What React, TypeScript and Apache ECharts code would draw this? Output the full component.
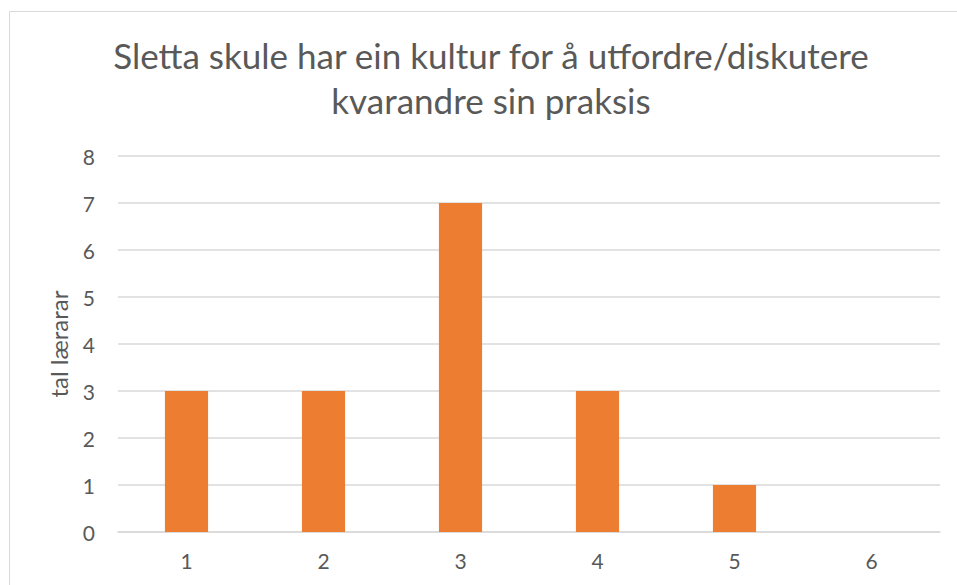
import React, { useEffect, useRef } from "react";
import * as echarts from "echarts";

const categories = ["1", "2", "3", "4", "5", "6"];
const values = [3, 3, 7, 3, 1, 0];
const titleLines = ["Sletta skule har ein kultur for å utfordre/diskutere", "kvarandre sin praksis"];
const yAxisName = "tal lærarar";

export default function App() {
  const ref = useRef<HTMLDivElement>(null);
  useEffect(() => {
    if (!ref.current) return;
    const chart = echarts.init(ref.current, undefined, { renderer: "svg" });
    const font = "Lato, 'Open Sans', sans-serif";
    chart.setOption({
      animation: false,
      backgroundColor: "#ffffff",
      title: {
        text: titleLines.join("\n"),
        left: 486,
        top: 27,
        textAlign: "center",
        textStyle: { fontFamily: font, fontSize: 35, lineHeight: 45, fontWeight: "normal", color: "#595959" },
      },
      graphic: [
        {
          type: "rect",
          shape: { x: 9.5, y: 11.5, width: 1000, height: 1000 },
          style: { fill: "none", stroke: "#d9d9d9", lineWidth: 1 },
          silent: true,
        },
      ],
      grid: { left: 118, right: 17, top: 156, bottom: 53, containLabel: false },
      xAxis: {
        type: "category",
        data: categories,
        axisLine: { show: true, lineStyle: { color: "#d9d9d9", width: 1.5 } },
        axisTick: { show: false },
        axisLabel: { color: "#595959", fontFamily: font, fontSize: 21, margin: 18 },
      },
      yAxis: {
        type: "value",
        min: 0,
        max: 8,
        interval: 1,
        name: yAxisName,
        nameLocation: "middle",
        nameGap: 48,
        nameTextStyle: { color: "#595959", fontFamily: font, fontSize: 24 },
        axisLine: { show: false },
        axisTick: { show: false },
        axisLabel: { color: "#595959", fontFamily: font, fontSize: 21, margin: 23 },
        splitLine: { lineStyle: { color: "#d9d9d9", width: 1.5 } },
      },
      series: [
        {
          type: "bar",
          data: values,
          barWidth: "31.5%",
          itemStyle: { color: "#ED7D31" },
        },
      ],
    });
    return () => chart.dispose();
  }, []);
  return <div ref={ref} style={{ position: "absolute", left: 0, top: 0, width: 957, height: 585 }} />;
}
